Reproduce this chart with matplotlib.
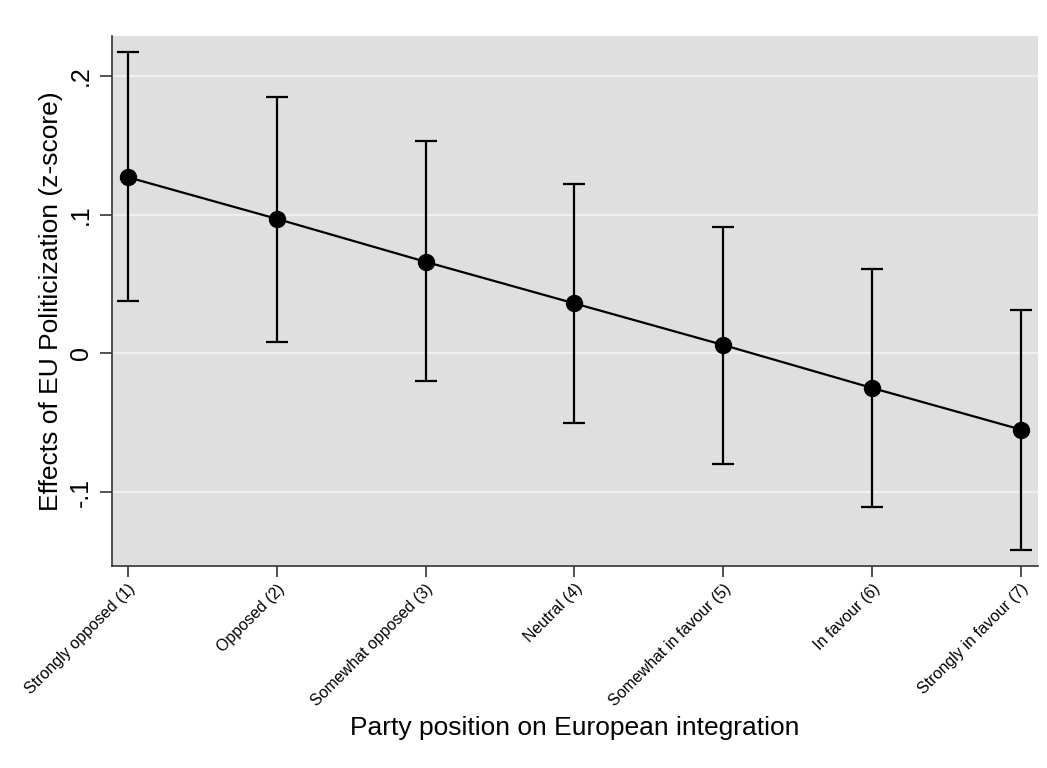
import numpy as np
import matplotlib
matplotlib.use("Agg")
import matplotlib.pyplot as plt

plt.rcParams['font.family'] = ['Liberation Sans', 'DejaVu Sans']

# party positions and predicted effects with 95% intervals
positions = [1, 2, 3, 4, 5, 6, 7]
labels = ["Strongly opposed (1)", "Opposed (2)", "Somewhat opposed (3)", "Neutral (4)",
          "Somewhat in favour (5)", "In favour (6)", "Strongly in favour (7)"]
effect = [0.127, 0.097, 0.066, 0.036, 0.006, -0.025, -0.055]
ci_low = [0.038, 0.008, -0.020, -0.050, -0.080, -0.111, -0.142]
ci_high = [0.217, 0.185, 0.153, 0.122, 0.091, 0.061, 0.031]

effect = np.array(effect)
yerr = [effect - np.array(ci_low), np.array(ci_high) - effect]

fig = plt.figure(figsize=(10.47, 7.68), dpi=100)
ax = fig.add_axes([0.107, 0.263, 0.8844, 0.690])
ax.set_facecolor('#dfdfdf')

ax.errorbar(positions, effect, yerr=yerr, fmt='none', ecolor='black',
            elinewidth=1.6, capsize=8, capthick=1.6, zorder=3)
ax.plot(positions, effect, color='black', lw=1.6, marker='o', markersize=11.5, zorder=4)

ax.set_xlim(0.893, 7.114)
ax.set_ylim(-0.1534, 0.2288)
ax.set_yticks([-0.1, 0, 0.1, 0.2])
ax.set_yticklabels(['-.1', '0', '.1', '.2'], rotation=90, va='center', fontsize=18)
ax.yaxis.grid(True, color='#eaf1f2', lw=1.6)
ax.set_axisbelow(True)

ax.set_xticks(positions)
ax.set_xticklabels(labels, rotation=45, ha='right', rotation_mode='anchor', fontsize=11.5)
ax.tick_params(axis='y', length=9, width=1.2, pad=5, color='#333333')
ax.tick_params(axis='x', length=8, width=1.2, pad=3, color='#333333')

for side in ['top', 'right']:
    ax.spines[side].set_visible(False)
for side in ['left', 'bottom']:
    ax.spines[side].set_linewidth(1.2)
    ax.spines[side].set_color('#333333')

ax.set_ylabel('Effects of EU Politicization (z-score)', fontsize=19, labelpad=4)
ax.set_xlabel('Party position on European integration', fontsize=19, labelpad=5)

fig.savefig('out.png', dpi=100, facecolor='white')
